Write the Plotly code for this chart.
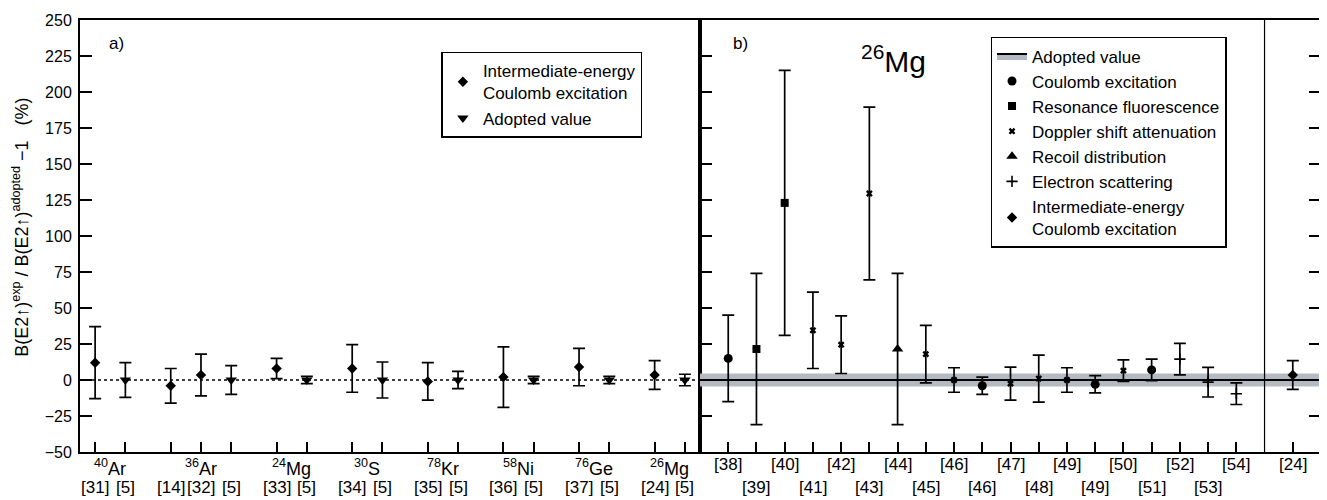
import plotly.graph_objects as go

# ---------------- panel a) data ----------------
a_x = [0, 1, 2.5, 3.5, 4.5, 6, 7, 8.5, 9.5, 11, 12, 13.5, 14.5, 16, 17, 18.5, 19.5]
a_ref = ["[31]", "[5]", "[14]", "[32]", "[5]", "[33]", "[5]", "[34]", "[5]",
         "[35]", "[5]", "[36]", "[5]", "[37]", "[5]", "[24]", "[5]"]
a_kind = ["IE", "AD", "IE", "IE", "AD", "IE", "AD", "IE", "AD",
          "IE", "AD", "IE", "AD", "IE", "AD", "IE", "AD"]
a_val = [12, 0, -4, 3.5, 0, 8, 0, 8, 0, -1, 0, 2, 0, 9, 0, 3.5, 0]
a_err = [25, 12, 12, 14.5, 10, 7, 2.5, 16.5, 12.5, 13, 6, 21, 2.5, 13, 2.5, 10, 4]
nuc_x = [0.5, 3.5, 6.5, 9, 11.5, 14, 16.5, 19]
nuc_txt = ["<sup>40</sup>Ar", "<sup>36</sup>Ar", "<sup>24</sup>Mg", "<sup>30</sup>S",
           "<sup>78</sup>Kr", "<sup>58</sup>Ni", "<sup>76</sup>Ge", "<sup>26</sup>Mg"]

# ---------------- panel b) data (26Mg) ----------------
b_x = list(range(19)) + [20]
b_ref = ["[38]", "[39]", "[40]", "[41]", "[42]", "[43]", "[44]", "[45]", "[46]", "[46]",
         "[47]", "[48]", "[49]", "[49]", "[50]", "[51]", "[52]", "[53]", "[54]", "[24]"]
b_method = ["CE", "RF", "RF", "DSA", "DSA", "DSA", "RD", "DSA", "DSA", "CE",
            "DSA", "DSA", "DSA", "CE", "DSA", "CE", "ES", "ES", "ES", "IE"]
b_val = [15, 21.5, 123, 34.5, 24.5, 129.5, 21.5, 18, 0, -4,
         -2.5, 1, 0, -3, 6.5, 7, 14.5, -1.5, -9.5, 3.5]
b_err = [30, 52.5, 92, 26.5, 20, 60, 52.5, 20, 8.5, 6,
         11.5, 16.3, 8.5, 6, 7.5, 7.5, 11, 10.3, 7.5, 10]
adopted_band = 4.5
b_row = [0, 1, 0, 1, 0, 1, 0, 1, 0, 1, 0, 1, 0, 1, 0, 1, 0, 1, 0, 0]

y_ticks = list(range(-50, 251, 25))

FONT = "Liberation Sans, Arial, sans-serif"
GRAY = "#b3bac2"

fig = go.Figure()

def err(arr):
    return dict(type="data", array=arr, color="black", thickness=1.7, width=6)

# panel a traces
a_specs = [("IE", "Intermediate-energy<br>Coulomb excitation", "diamond", 8),
           ("AD", "Adopted value", "triangle-down", 10)]
for kind, name, sym, size in a_specs:
    xs = [x for x, k in zip(a_x, a_kind) if k == kind]
    ys = [v for v, k in zip(a_val, a_kind) if k == kind]
    es = [e for e, k in zip(a_err, a_kind) if k == kind]
    fig.add_trace(go.Scatter(x=xs, y=ys, mode="markers", name=name,
                             marker=dict(symbol=sym, size=size, color="black"),
                             error_y=err(es), xaxis="x", yaxis="y", legend="legend"))

# panel b: adopted line (legend icon) + band shape
fig.add_trace(go.Scatter(x=[-1, 21], y=[0, 0], mode="lines", name="Adopted value",
                         line=dict(color="black", width=2), fill="tozeroy", fillcolor=GRAY,
                         xaxis="x2", yaxis="y2", legend="legend2"))

b_specs = [("CE", "Coulomb excitation", "circle", 9, 0),
           ("RF", "Resonance fluorescence", "square", 8, 0),
           ("DSA", "Doppler shift attenuation", "x", 6, 0),
           ("RD", "Recoil distribution", "triangle-up", 10, 0),
           ("ES", "Electron scattering", "cross-thin", 8, 1.6),
           ("IE", "Intermediate-energy<br>Coulomb excitation", "diamond", 8, 0)]
for kind, name, sym, size, lw in b_specs:
    xs = [x for x, k in zip(b_x, b_method) if k == kind]
    ys = [v for v, k in zip(b_val, b_method) if k == kind]
    es = [e for e, k in zip(b_err, b_method) if k == kind]
    fig.add_trace(go.Scatter(x=xs, y=ys, mode="markers", name=name,
                             marker=dict(symbol=sym, size=size, color="black",
                                         line=dict(color="black", width=lw)),
                             error_y=err(es), xaxis="x2", yaxis="y2", legend="legend2"))

shapes = [
    dict(type="line", xref="x", yref="y", x0=-0.5, x1=20, y0=0, y1=0,
         line=dict(color="black", width=1.5, dash="dot"), layer="below"),
    dict(type="rect", xref="x2", yref="y2", x0=-1, x1=21, y0=-adopted_band, y1=adopted_band,
         fillcolor=GRAY, line=dict(width=0), layer="below"),
    dict(type="line", xref="x2", yref="paper", x0=19, x1=19, y0=0, y1=1,
         line=dict(color="black", width=1.2)),
]

ann = []
# panel a x labels
for x, r in zip(a_x, a_ref):
    ann.append(dict(x=x, y=-0.0826, xref="x", yref="paper", text=r, showarrow=False,
                    font=dict(size=17), xanchor="center", yanchor="middle"))
for x, t in zip(nuc_x, nuc_txt):
    ann.append(dict(x=x, y=-0.036, xref="x", yref="paper", text=t, showarrow=False,
                    font=dict(size=18), xanchor="center", yanchor="middle"))
# panel b x labels
for x, r, row in zip(b_x, b_ref, b_row):
    ann.append(dict(x=x, y=-0.030 if row == 0 else -0.0826, xref="x2", yref="paper", text=r,
                    showarrow=False, font=dict(size=17), xanchor="center", yanchor="middle"))
ann += [
    dict(x=0.0435, y=0.945, xref="x domain", yref="paper", text="a)", showarrow=False,
         font=dict(size=17), xanchor="left", yanchor="middle"),
    dict(x=0.05, y=0.945, xref="x2 domain", yref="paper", text="b)", showarrow=False,
         font=dict(size=17), xanchor="left", yanchor="middle"),
    dict(x=0.312, y=0.91, xref="x2 domain", yref="paper", text="<sup>26</sup>Mg",
         showarrow=False, font=dict(size=30), xanchor="center", yanchor="middle"),
    dict(x=-0.048, y=0.52, xref="paper", yref="paper", textangle=-90, showarrow=False,
         xanchor="center", yanchor="middle",
         text="B(E2\u2191)<sup>exp</sup> / B(E2\u2191)<sup>adopted</sup> \u22121\u00a0\u00a0\u00a0(%)",
         font=dict(size=18)),
]

axis_common = dict(showgrid=False, zeroline=False, showline=True, linecolor="black",
                   linewidth=2, ticks="inside", tickcolor="black", tickwidth=1.5)

# page body has an 8 px margin: the figure is sized so it fills the 1327x500 window
fig.update_layout(
    width=1319, height=492,
    margin=dict(l=72, r=4, t=8, b=48),
    plot_bgcolor="white", paper_bgcolor="white",
    font=dict(family=FONT, color="black", size=16),
    xaxis=dict(domain=[0, 0.4996], range=[-0.5, 20], tickvals=a_x, showticklabels=False,
               ticklen=10, mirror=True, anchor="y", **axis_common),
    yaxis=dict(range=[-50, 250], tickvals=y_ticks, ticklen=12, mirror=True, anchor="x",
               tickfont=dict(size=16), ticklabelstandoff=3, ticklabeloverflow="allow",
               **axis_common),
    xaxis2=dict(domain=[0.4996, 1], range=[-1, 21], tickvals=b_x, showticklabels=False,
                ticklen=10, mirror=True, anchor="y2", **axis_common),
    yaxis2=dict(range=[-50, 250], tickvals=y_ticks, ticklen=12, mirror="ticks", anchor="x2",
                showticklabels=False, **axis_common),
    legend=dict(x=0.2912, y=0.9266, xanchor="left", yanchor="top", bordercolor="black",
                borderwidth=1.5, bgcolor="white", font=dict(size=17), tracegroupgap=0,
                itemwidth=30),
    legend2=dict(x=0.7337, y=0.961, xanchor="left", yanchor="top", bordercolor="black",
                 borderwidth=1.5, bgcolor="white", font=dict(size=17), tracegroupgap=0,
                 itemwidth=30),
    shapes=shapes, annotations=ann,
)

fig.write_html("out.html")
